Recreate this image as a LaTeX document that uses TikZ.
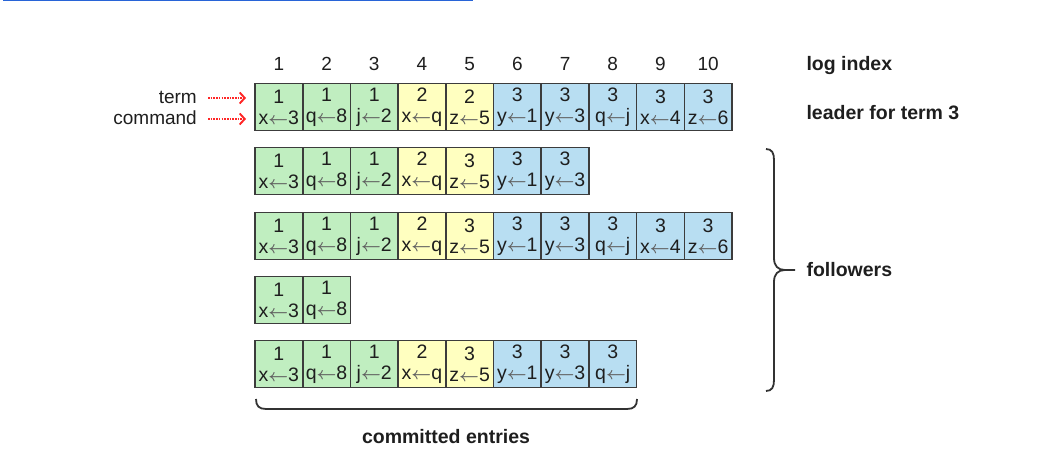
\documentclass[tikz,border=0pt]{standalone}
\usepackage{fontspec}
\setmainfont{Liberation Sans}
\usetikzlibrary{arrows.meta,calc}
\definecolor{termonefill}{RGB}{192,238,192}
\definecolor{termtwofill}{RGB}{255,255,192}
\definecolor{termthreefill}{RGB}{184,222,242}
\definecolor{cellborder}{RGB}{60,60,60}
\definecolor{inkgray}{RGB}{30,30,30}
\definecolor{bracegray}{RGB}{50,50,50}
\definecolor{linkblue}{RGB}{40,100,215}
\newcommand{\asg}{{\color{gray!75!black}\fontsize{16}{16}\selectfont$\boldsymbol{\leftarrow}$}}
\tikzstyle{cell} = [rectangle, draw=cellborder, line width=1.6pt, minimum width=47.7pt, minimum height=47pt, inner sep=0pt, outer sep=0pt, align=center, text=inkgray, font=\fontsize{19.5}{21}\selectfont]
\tikzstyle{termone} = [cell, fill=termonefill]
\tikzstyle{termtwo} = [cell, fill=termtwofill]
\tikzstyle{termthree} = [cell, fill=termthreefill]
\tikzstyle{index} = [text=inkgray, font=\fontsize{19}{21}\selectfont]
\tikzstyle{sidelabel} = [anchor=east, inner sep=0pt, text=inkgray, font=\fontsize{19}{21}\selectfont]
\tikzstyle{caption} = [text=inkgray, font=\fontsize{19.5}{22}\selectfont\bfseries]
\tikzstyle{redarrow} = [draw=red!85!white, line width=1.9pt, dash pattern=on 1.6pt off 1.1pt, -{Straight Barb[length=5pt,width=11pt]}]
\tikzstyle{brace} = [draw=bracegray, line width=1.8pt]
\usepackage{amsmath}
\begin{document}
\begin{tikzpicture}[x=1pt,y=-1pt]
\useasboundingbox (0,0) rectangle (1053,470);
\draw [linkblue, line width=1.5pt] (3,0.7) -- (473,0.7);
% the five logs
\foreach \row/\y/\cells in {
  L/107/{1/x/3/termone,1/q/8/termone,1/j/2/termone,2/x/q/termtwo,2/z/5/termtwo,3/y/1/termthree,3/y/3/termthree,3/q/j/termthree,3/x/4/termthree,3/z/6/termthree},
  Fa/171/{1/x/3/termone,1/q/8/termone,1/j/2/termone,2/x/q/termtwo,3/z/5/termtwo,3/y/1/termthree,3/y/3/termthree},
  Fb/236/{1/x/3/termone,1/q/8/termone,1/j/2/termone,2/x/q/termtwo,3/z/5/termtwo,3/y/1/termthree,3/y/3/termthree,3/q/j/termthree,3/x/4/termthree,3/z/6/termthree},
  Fc/300/{1/x/3/termone,1/q/8/termone},
  Fd/364/{1/x/3/termone,1/q/8/termone,1/j/2/termone,2/x/q/termtwo,3/z/5/termtwo,3/y/1/termthree,3/y/3/termthree,3/q/j/termthree}}
{
  \foreach \t/\v/\w/\s [count=\i] in \cells
    \node (\row\i) [\s] at ({255+47.7*(\i-0.5)},\y) {\t\\\v\asg\w};
}
% log index
\foreach \i in {1,...,10}
  \node (idx\i) [index] at ($(L\i)+(0,-43)$) {\i};
\node (termlbl) [sidelabel] at (197,97) {term};
\node (cmdlbl) [sidelabel] at (197,118) {command};
\draw [redarrow] ($(termlbl.east)+(11,1)$) -- ($(L1.west |- termlbl.east)+(-9,1)$);
\draw [redarrow] ($(cmdlbl.east)+(11,1)$) -- ($(L1.west |- cmdlbl.east)+(-9,1)$);
\node (logidx) [caption, anchor=west] at (803,66) {log index};
\node (leader) [caption, anchor=west] at (803,113) {leader for term 3};
\node (followers) [caption, anchor=west] at (803,270) {followers};
\node (committed) [caption] at (446,437) {committed entries};
% braces
\draw [brace] (766,149) .. controls (772,149) and (774,153) .. (774,160) -- (774,258) .. controls (774,266) and (778,270) .. (785,270) -- (795,270);
\draw [brace] (785,270) .. controls (778,270) and (774,274) .. (774,282) -- (774,380) .. controls (774,387) and (772,391) .. (766,391);
\draw [brace] (256,399) .. controls (256,406) and (259,409) .. (266,409) -- (627,409) .. controls (634,409) and (637,406) .. (637,399);
\end{tikzpicture}
\end{document}
